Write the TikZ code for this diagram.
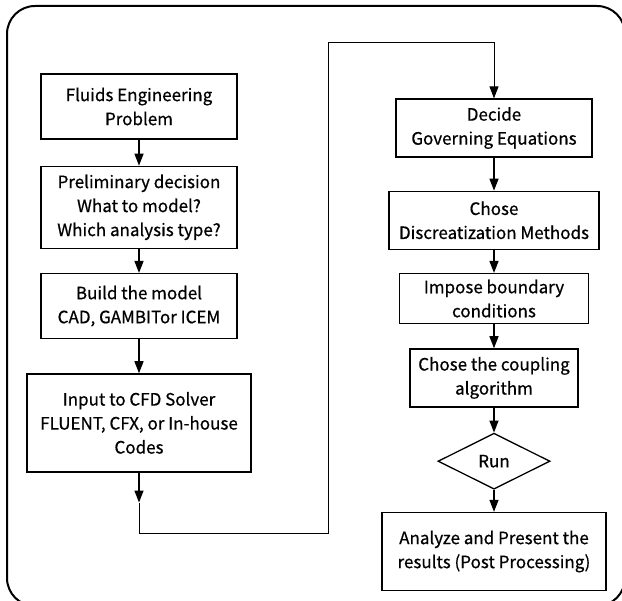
\documentclass[tikz,border=0pt]{standalone}
\usepackage{fontspec}
\setmainfont{Noto Sans CJK JP}[FakeBold=0.6]
\usetikzlibrary{positioning}
\usetikzlibrary{shapes.geometric}
\usetikzlibrary{arrows.meta}

\begin{document}
\begin{tikzpicture}[x=1pt, y=1pt,
    every node/.style = {font=\fontsize{17}{24}\selectfont},
    stepbox/.style = {draw, line width=1.3pt, align=center, inner sep=0pt},
    decision/.style = {draw, diamond, aspect=2, line width=1.3pt, inner sep=0pt},
    flow/.style = {line width=1.3pt, -{Triangle[length=12pt,width=9pt]}},
    loopline/.style = {line width=0.9pt, -{Triangle[length=12pt,width=9pt]}}
  ]
  \useasboundingbox (0,0) rectangle (622,-601);
  \draw [line width=2pt, rounded corners=28pt] (7,-6) rectangle (625,-606);

  % left column
  \node (problem) [stepbox, minimum width=196pt, minimum height=65pt] at (139,-106.5) {Fluids Engineering\\Problem};
  \node (prelim) [stepbox, minimum width=196pt, minimum height=82pt, below=26pt of problem] {Preliminary decision\\What to model?\\Which analysis type?};
  \node (model) [stepbox, minimum width=196pt, minimum height=65pt, below=24pt of prelim] {Build the model\\CAD, GAMBITor ICEM};
  \node (solver) [stepbox, minimum width=224pt, minimum height=98pt, below=34pt of model] {Input to CFD Solver\\FLUENT, CFX, or In-house\\Codes};

  % right column
  \node (governing) [stepbox, minimum width=196pt, minimum height=58pt] at (494,-128) {Decide\\Governing Equations};
  \node (discrete) [stepbox, minimum width=210pt, minimum height=58pt, below=33pt of governing] {Chose\\Discreatization Methods};
  \node (boundary) [stepbox, minimum width=189pt, minimum height=50pt, below=23pt of discrete] {Impose boundary\\conditions};
  \node (coupling) [stepbox, minimum width=168pt, minimum height=58pt, below=24pt of boundary] {Chose the coupling\\algorithm};
  \node (run) [decision, minimum width=112pt, minimum height=56pt, below=25pt of coupling] {Run};
  \node (results) [stepbox, minimum width=224pt, minimum height=78pt, below=22pt of run] {Analyze and Present the\\results (Post Processing)};

  \path [flow]
    (problem) edge (prelim)
    (prelim) edge (model)
    (model) edge (solver)
    (governing) edge (discrete)
    (discrete) edge (boundary)
    (boundary) edge (coupling)
    (coupling) edge (run)
    (run) edge (results);

  % link between the two columns
  \coordinate (mid) at ([yshift=-30pt]solver.south);
  \coordinate (bend1) at (139,-533);
  \coordinate (bend2) at (328,-533);
  \coordinate (bend3) at (328,-42);
  \coordinate (bend4) at (governing.north |- bend3);
  \draw [flow] (solver) -- (mid);
  \draw [loopline] (mid) -- (bend1) -- (bend2) -- (bend3) -- (bend4) -- (governing);
\end{tikzpicture}
\end{document}
